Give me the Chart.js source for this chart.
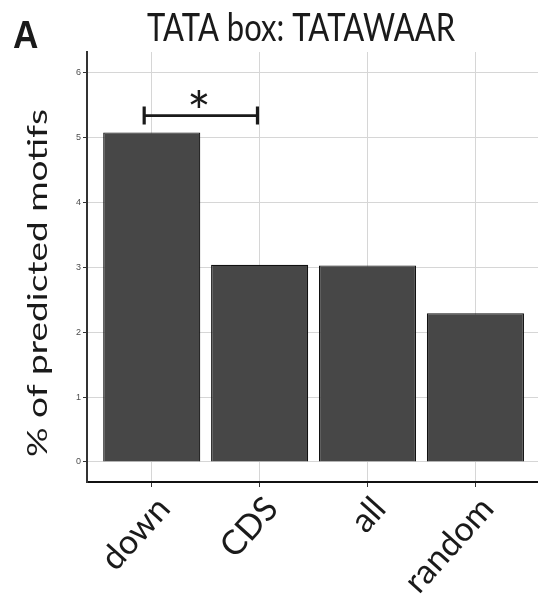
<!DOCTYPE html>
<html>
<head>
<meta charset="utf-8">
<script src="https://cdn.jsdelivr.net/npm/chart.js@4.4.1/dist/chart.umd.min.js"></script>
<style>
  html, body { margin: 0; padding: 0; background: #fff; }
  #wrap { position: relative; width: 538px; height: 596px; }
</style>
</head>
<body>
<div id="wrap"><canvas id="chart" width="538" height="596"></canvas></div>
<script>
// data
const categories = ['down', 'CDS', 'all', 'random'];
const percentMotifs = [5.08, 3.04, 3.03, 2.29];
const yTicks = [0, 1, 2, 3, 4, 5, 6];

// significance bracket between "down" and "CDS"
const bracketX = [0.93, 1.98];
const bracketY = 5.34;
const bracketLabel = '*';

const panelLabel = 'A';
const titleText = 'TATA box: TATAWAAR';
const yTitleText = '% of predicted motifs';

const FONT = 'Lato, "Noto Sans", sans-serif';

// the source figure is stretched vertically, so text is drawn taller than wide
const annotations = {
    id: 'annotations',
    afterDatasetsDraw: function (chart) {
        const ctx = chart.ctx;
        const x = chart.scales.x;
        const y = chart.scales.y;

        const x0 = x.getPixelForValue(bracketX[0]);
        const x1 = x.getPixelForValue(bracketX[1]);
        const yb = y.getPixelForValue(bracketY);
        ctx.save();
        ctx.strokeStyle = '#1a1a1a';
        ctx.lineWidth = 2.7;
        ctx.beginPath();
        ctx.moveTo(x0, yb);
        ctx.lineTo(x1, yb);
        ctx.stroke();
        ctx.lineWidth = 3.2;
        ctx.beginPath();
        ctx.moveTo(x0, yb - 9);
        ctx.lineTo(x0, yb + 9);
        ctx.moveTo(x1, yb - 9);
        ctx.lineTo(x1, yb + 9);
        ctx.stroke();

        ctx.fillStyle = '#1a1a1a';
        ctx.font = '56px ' + FONT;
        ctx.textAlign = 'center';
        ctx.textBaseline = 'alphabetic';
        const m = ctx.measureText(bracketLabel);
        const cy = yb - 17;
        ctx.fillText(bracketLabel, (x0 + x1) / 2 - 2, cy + (m.actualBoundingBoxAscent - m.actualBoundingBoxDescent) / 2);
        ctx.restore();
    },
    afterDraw: function (chart) {
        const ctx = chart.ctx;
        ctx.save();
        ctx.fillStyle = '#1a1a1a';
        ctx.textBaseline = 'alphabetic';

        ctx.save();
        ctx.translate(13, 48);
        ctx.scale(0.95, 1.05);
        ctx.font = 'bold 37px "Liberation Sans", Arial, sans-serif';
        ctx.textAlign = 'left';
        ctx.fillText(panelLabel, 0, 0);
        ctx.restore();

        ctx.save();
        ctx.translate(301, 41);
        ctx.scale(1, 1.25);
        ctx.font = '31px ' + FONT;
        ctx.textAlign = 'center';
        ctx.fillText(titleText, 0, 0);
        ctx.restore();

        ctx.save();
        ctx.translate(47, 283);
        ctx.rotate(-Math.PI / 2);
        ctx.scale(1.37, 1);
        ctx.font = '27px ' + FONT;
        ctx.textAlign = 'center';
        ctx.fillText(yTitleText, 0, 0);
        ctx.restore();

        ctx.restore();
    }
};

new Chart(document.getElementById('chart'), {
    type: 'bar',
    data: {
        datasets: [{
            data: percentMotifs.map(function (v, i) { return { x: i + 1, y: v }; }),
            backgroundColor: '#474747',
            borderColor: '#111111',
            borderWidth: 1.2,
            categoryPercentage: 1,
            barPercentage: 0.9
        }]
    },
    options: {
        responsive: false,
        animation: false,
        layout: { padding: { top: 52, right: 0, left: 0, bottom: 0 } },
        plugins: {
            legend: { display: false },
            tooltip: { enabled: false }
        },
        scales: {
            x: {
                type: 'linear',
                offset: false,
                min: 0.4,
                max: 4.58,
                afterBuildTicks: function (scale) {
                    scale.ticks = categories.map(function (c, i) { return { value: i + 1 }; });
                },
                afterFit: function (scale) { scale.height = 114; },
                grid: { offset: false, color: '#d6d6d6', lineWidth: 1, tickLength: 5, tickColor: '#333333' },
                border: { display: true, color: '#111111', width: 2 },
                ticks: {
                    autoSkip: false,
                    minRotation: 48,
                    maxRotation: 48,
                    padding: 2,
                    labelOffset: 12,
                    color: '#1a1a1a',
                    font: { family: FONT, size: 34 },
                    callback: function (v) { return categories[v - 1]; }
                }
            },
            y: {
                min: -0.31,
                max: 6.32,
                afterBuildTicks: function (scale) {
                    scale.ticks = yTicks.map(function (v) { return { value: v }; });
                },
                afterFit: function (scale) { scale.width = 87; },
                grid: { color: '#d6d6d6', lineWidth: 1, tickLength: 4, tickColor: '#333333' },
                border: { display: true, color: '#333333', width: 2 },
                ticks: {
                    padding: 2,
                    color: '#4d4d4d',
                    font: { family: '"Liberation Sans", Arial, sans-serif', size: 9 }
                }
            }
        }
    },
    plugins: [annotations]
});
</script>
</body>
</html>
